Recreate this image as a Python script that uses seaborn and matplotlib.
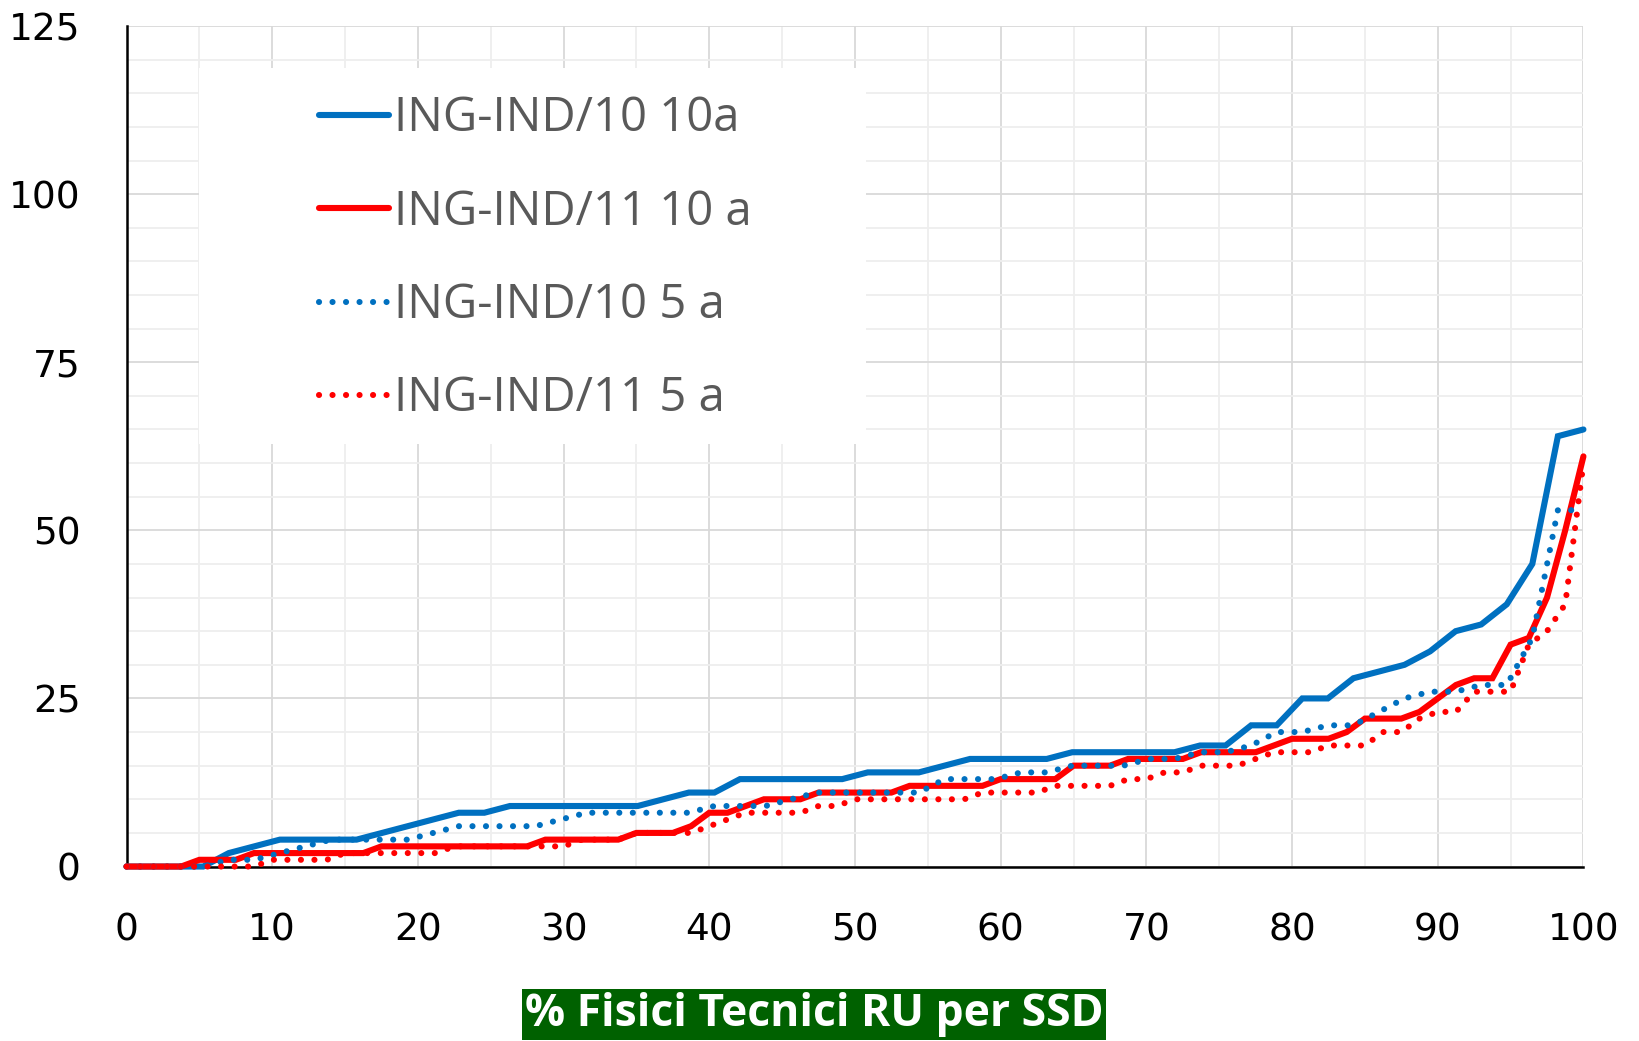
import numpy as np
import pandas as pd
import matplotlib
matplotlib.use("Agg")
import matplotlib.pyplot as plt
import seaborn as sns
from matplotlib.patches import Rectangle
from matplotlib.ticker import MultipleLocator

# ---- data ----
ind10_10a = [0, 0, 0, 0, 2, 3, 4, 4, 4, 4, 5, 6, 7, 8, 8, 9, 9, 9, 9, 9, 9, 10, 11, 11,
             13, 13, 13, 13, 13, 14, 14, 14, 15, 16, 16, 16, 16, 17, 17, 17, 17, 17,
             18, 18, 21, 21, 25, 25, 28, 29, 30, 32, 35, 36, 39, 45, 64, 65]
ind11_10a = [0, 0, 0, 0, 1, 1, 1, 2, 2, 2, 2, 2, 2, 2, 3, 3, 3, 3, 3, 3, 3, 3, 3,
             4, 4, 4, 4, 4, 5, 5, 5, 6, 8, 8, 9, 10, 10, 10, 11, 11, 11, 11, 11,
             12, 12, 12, 12, 12, 13, 13, 13, 13, 15, 15, 15, 16, 16, 16, 16,
             17, 17, 17, 17, 18, 19, 19, 19, 20, 22, 22, 22, 23, 25, 27, 28, 28,
             33, 34, 40, 50, 61]
ind10_5a = [0, 0, 0, 0, 1, 1, 2, 3, 4, 4, 4, 4, 5, 6, 6, 6, 6, 7, 8, 8, 8, 8, 8,
            9, 9, 9, 10, 11, 11, 11, 11, 11, 13, 13, 13, 14, 14, 15, 15, 15, 16, 16,
            17, 17, 18, 20, 20, 21, 21, 23, 25, 26, 26, 27, 27, 34, 53, 53]
ind11_5a = [0, 0, 0, 0, 0, 0, 0, 0, 1, 1, 1, 1, 2, 2, 2, 2, 2, 2, 3, 3, 3, 3, 3, 3, 3,
            4, 4, 4, 5, 5, 5, 5, 6, 7, 8, 8, 8, 8, 9, 9, 10, 10, 10, 10, 10, 10, 10,
            11, 11, 11, 11, 12, 12, 12, 12, 13, 13, 14, 14, 15, 15, 15, 16, 17, 17, 17,
            18, 18, 18, 20, 20, 22, 23, 23, 26, 26, 26, 33, 35, 39, 60]

labels = ["ING-IND/10 10a", "ING-IND/11 10 a", "ING-IND/10 5 a", "ING-IND/11 5 a"]
series = [ind10_10a, ind11_10a, ind10_5a, ind11_5a]
colors = ["#0070C0", "#FF0000", "#0070C0", "#FF0000"]
styles = ["-", "-", (0, (0.01, 2.2)), (0, (0.01, 2.2))]
x_ticks = list(range(0, 101, 10))
y_ticks = list(range(0, 126, 25))
xlabel = "% Fisici Tecnici RU per SSD"

frames = []
for lab, vals in zip(labels, series):
    n = len(vals)
    frames.append(pd.DataFrame({"pct": np.linspace(0, 100, n), "val": vals, "serie": lab}))
df = pd.concat(frames, ignore_index=True)

sns.set_theme(style="white")
plt.rcParams["font.family"] = ["DejaVu Sans"]

fig = plt.figure(figsize=(16.39, 10.41), dpi=100)
ax = fig.add_axes([0.0772, 0.1676, 0.8889, 0.8074])

for lab, col, ls in zip(labels, colors, styles):
    sub = df[df["serie"] == lab]
    sns.lineplot(data=sub, x="pct", y="val", ax=ax, color=col, linewidth=4.4,
                 linestyle=ls, label=lab, estimator=None, sort=False,
                 dash_capstyle="round", solid_capstyle="round", solid_joinstyle="miter",
                 clip_on=False, zorder=4)

ax.set_xlim(0, 100)
ax.set_ylim(0, 125)
ax.set_xticks(x_ticks)
ax.set_yticks(y_ticks)
ax.xaxis.set_minor_locator(MultipleLocator(5))
ax.yaxis.set_minor_locator(MultipleLocator(5))
ax.set_axisbelow(True)
ax.grid(which="minor", color="#eeeeee", linewidth=1.3)
ax.grid(which="major", color="#d9d9d9", linewidth=1.3)
ax.tick_params(which="major", direction="in", length=11, width=1.6, color="black",
               labelsize=27, pad=33, labelcolor="black")
ax.tick_params(which="minor", direction="in", length=8, width=1.6, color="black")
for s in ["top", "right"]:
    ax.spines[s].set_visible(False)
for s in ["left", "bottom"]:
    ax.spines[s].set_color("black")
    ax.spines[s].set_linewidth(1.8)
    ax.spines[s].set_zorder(3)
ax.set_ylabel("")

# white legend background panel
ax.add_patch(Rectangle((0.0498, 0.5027), 0.4578, 0.4473, transform=ax.transAxes,
                       facecolor="white", edgecolor="none", zorder=1))

leg = ax.legend(loc="center left", bbox_to_anchor=(0.132, 0.7232), frameon=False,
                prop={"family": "Open Sans", "size": 34}, labelcolor="#595959",
                handlelength=1.48, handletextpad=0.12, labelspacing=0.97,
                borderpad=0, borderaxespad=0)
leg.set_zorder(6)

ax.set_xlabel(xlabel, fontsize=32, fontweight="bold", color="white", family="Open Sans",
              va="center",
              bbox=dict(boxstyle="square,pad=0.06", facecolor="#006100", edgecolor="none"))
ax.xaxis.set_label_coords(0.4719, -0.176)

fig.savefig("out.png", dpi=100)
